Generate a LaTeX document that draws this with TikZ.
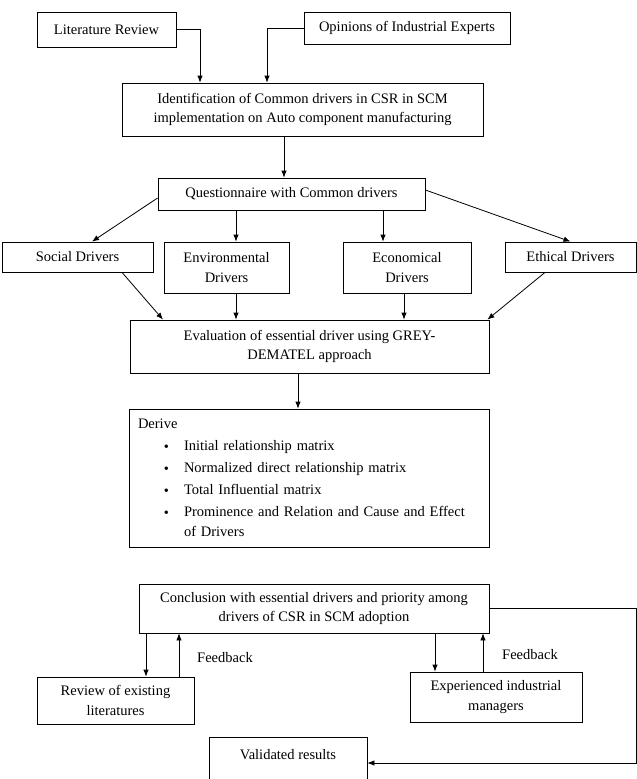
\documentclass[tikz,border=0pt]{standalone}
\usepackage{fontspec}
\setmainfont{Liberation Serif}
\usetikzlibrary{arrows.meta,calc}

\newenvironment{drvlist}{\begin{list}{\raisebox{-0.5pt}{\Large\textbullet}}{\setlength{\leftmargin}{46pt}\setlength{\labelwidth}{7pt}\setlength{\labelsep}{15pt}\setlength{\itemsep}{2.5pt}\setlength{\parsep}{0pt}\setlength{\topsep}{2.5pt}\setlength{\partopsep}{0pt}}}{\end{list}}

\begin{document}
\begin{tikzpicture}[x=1pt, y=-1pt, font=\fontsize{14.5}{19.5}\selectfont,
	box/.style={draw, line width=0.8pt, align=center, inner sep=2pt},
	arr/.style={-{Latex[length=7pt,width=5.5pt]}, line width=0.8pt}]
	\useasboundingbox (0,0) rectangle (637,779);
	% sources
	\node[box, minimum width=139pt, minimum height=35pt] (litrev) at (106.5,29.5) {Literature Review};
	\node[box, minimum width=206pt, minimum height=32pt] (opinions) at (407,28) {Opinions of Industrial Experts};
	\node[box, minimum width=361pt, minimum height=53pt] (ident) at (302.5,109.5) {Identification of Common drivers in CSR in SCM\\implementation on Auto component manufacturing};
	\node[box, minimum width=267pt, minimum height=32pt] (quest) at (291.5,194) {Questionnaire with Common drivers};
	% drivers
	\node[box, minimum width=151pt, minimum height=30pt] (social) at (77.5,257) {Social Drivers};
	\node[box, minimum width=125pt, minimum height=51pt] (environ) at (226.5,267.5) {Environmental\\Drivers};
	\node[box, minimum width=128pt, minimum height=51pt] (econ) at (407,267.5) {Economical\\Drivers};
	\node[box, minimum width=131pt, minimum height=30pt] (ethical) at (570.5,257) {Ethical Drivers};
	\node[box, minimum width=359pt, minimum height=53pt] (eval) at (309.5,346.5) {Evaluation of essential driver using GREY-\\DEMATEL approach};
	\node[box, minimum width=360pt, minimum height=138pt, text width=342pt, inner xsep=9pt, align=left] (derive) at (309,478) {Derive
	\begin{drvlist}
	\item Initial relationship matrix
	\item Normalized direct relationship matrix
	\item Total Influential matrix
	\item Prominence and Relation and Cause and Effect\newline of Drivers
	\end{drvlist}};
	% validation
	\node[box, minimum width=350pt, minimum height=49pt] (concl) at (314,608.5) {Conclusion with essential drivers and priority among\\drivers of CSR in SCM adoption};
	\node[box, minimum width=157pt, minimum height=47pt] (review) at (115.5,700.5) {Review of existing\\literatures};
	\node[box, minimum width=172pt, minimum height=50pt] (exper) at (496,697) {Experienced industrial\\managers};
	\node[box, minimum width=158pt, minimum height=44pt, text depth=9pt] (valid) at (288,759) {Validated results};
	\node (fb1) at (225,658) {Feedback};
	\node (fb2) at (530,655) {Feedback};

	\draw[arr] (litrev.east) -| ($(ident.north)+(-102.5,0)$);
	\draw[arr] (opinions.west) -| ($(ident.north)+(-35.5,0)$);
	\draw[arr] ($(ident.south)+(-18.5,0)$) -- ($(quest.north)+(-7.5,0)$);
	\draw[arr] ($(quest.west)+(0,4)$) -- ($(social.north)+(14.5,0)$);
	\draw[arr] ($(quest.south)+(-55.5,0)$) -- ($(environ.north)+(9.5,0)$);
	\draw[arr] ($(quest.south)+(91.5,0)$) -- ($(econ.north)+(-24,0)$);
	\draw[arr] ($(quest.east)+(0,-4)$) -- (ethical.north);
	\draw[arr] ($(social.south)+(44.5,0)$) -- ($(eval.north)+(-146.5,0)$);
	\draw[arr] ($(environ.south)+(9.5,0)$) -- ($(eval.north)+(-73.5,0)$);
	\draw[arr] ($(econ.south)+(-3,0)$) -- ($(eval.north)+(94.5,0)$);
	\draw[arr] ($(ethical.south)+(-25.5,0)$) -- ($(eval.north east)+(-2,0)$);
	\draw[arr] ($(eval.south)+(-11.5,0)$) -- ($(derive.north)+(-11,0)$);
	\draw[arr] ($(concl.south)+(-168,0)$) -- ($(review.north)+(30.5,0)$);
	\draw[arr] ($(review.north)+(63.5,0)$) -- ($(concl.south)+(-135,0)$);
	\draw[arr] ($(concl.south)+(121,0)$) -- ($(exper.north)+(-61,0)$);
	\draw[arr] ($(exper.north)+(-13,0)$) -- ($(concl.south)+(169,0)$);
	\draw[arr] (concl.east) -- ++(146.5,0) |- ($(valid.east)+(0,4)$);
\end{tikzpicture}
\end{document}
